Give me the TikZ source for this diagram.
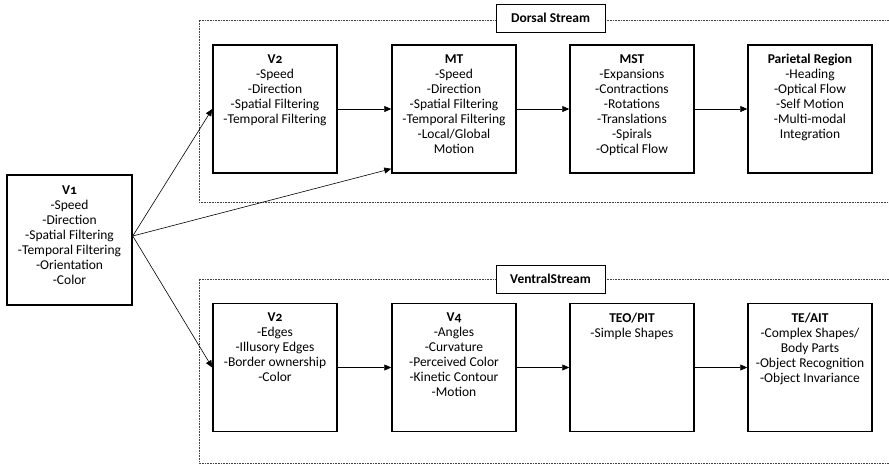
\documentclass[tikz,border=0pt]{standalone}
\usepackage{fontspec}
\setmainfont{Carlito}
\usepackage{tikz}
\usetikzlibrary{arrows.meta}

\begin{document}
\begin{tikzpicture}[x=1pt,y=-1pt,
        area/.style={draw=black, line width=1.5pt, minimum width=124pt, minimum height=128pt, inner sep=0pt},
        info/.style={anchor=north, align=center, inner sep=0pt, font=\fontsize{13.5}{15}\selectfont},
        tag/.style={draw=black, line width=0.8pt, fill=white, minimum width=109pt, minimum height=28pt, inner sep=0pt, font=\fontsize{13.5}{15}\selectfont\bfseries},
        frame/.style={draw=black!75, line width=0.8pt, dash pattern=on 0.8pt off 0.8pt},
        flow/.style={draw=black, line width=0.6pt, -{Triangle[length=7pt,width=6pt]}}]
            \useasboundingbox (0,0) rectangle (889,464);
            % stream frames
            \draw[frame] (889,20) -- (199,20) -- (199,202) -- (889,202);
            \draw[frame] (889,279) -- (199,279) -- (199,463) -- (889,463);
            \node[tag] (dorsal) at (550.5,18) {Dorsal Stream};
            \node[tag] (ventral) at (550.5,279) {VentralStream};
            % V1
            \node[area, minimum width=125pt, minimum height=130pt] (v1) at (69.5,240) {};
            \node[info] (v1txt) at ([yshift=-11pt]v1.north) {{\bfseries\addfontfeature{Numbers=OldStyle}V1}\\-Speed\\-Direction\\-Spatial Filtering\\-Temporal Filtering\\-Orientation\\-Color};
            \coordinate (v1out) at ([yshift=4pt]v1.east);
            % dorsal row
            \node[area] (v2d) at (275,109) {};
            \node[area] (mt) at (454,109) {};
            \node[area] (mst) at (632,109) {};
            \node[area] (par) at (810,109) {};
            \node[info] (v2dtxt) at ([yshift=-10pt]v2d.north) {{\bfseries\addfontfeature{Numbers=OldStyle}V2}\\-Speed\\-Direction\\-Spatial Filtering\\-Temporal Filtering};
            \node[info] (mttxt) at ([yshift=-10pt]mt.north) {\textbf{MT}\\-Speed\\-Direction\\-Spatial Filtering\\-Temporal Filtering\\-Local/Global\\Motion};
            \node[info] (msttxt) at ([yshift=-10pt]mst.north) {\textbf{MST}\\-Expansions\\-Contractions\\-Rotations\\-Translations\\-Spirals\\-Optical Flow};
            \node[info] (partxt) at ([yshift=-10pt]par.north) {\textbf{Parietal Region}\\-Heading\\-Optical Flow\\-Self Motion\\-Multi-modal\\Integration};
            % ventral row
            \node[area] (v2v) at (275,367.5) {};
            \node[area] (v4) at (454,367.5) {};
            \node[area] (teo) at (632,367.5) {};
            \node[area] (te) at (810,367.5) {};
            \node[info] (v2vtxt) at ([yshift=-10pt]v2v.north) {{\bfseries\addfontfeature{Numbers=OldStyle}V2}\\-Edges\\-Illusory Edges\\-Border ownership\\-Color};
            \node[info] (v4txt) at ([yshift=-10pt]v4.north) {{\bfseries\addfontfeature{Numbers=OldStyle}V4}\\-Angles\\-Curvature\\-Perceived Color\\-Kinetic Contour\\-Motion};
            \node[info] (teotxt) at ([yshift=-10pt]teo.north) {\textbf{TEO/PIT}\\-Simple Shapes};
            \node[info] (tetxt) at ([yshift=-10pt]te.north) {\textbf{TE/AIT}\\-Complex Shapes/\\Body Parts\\-Object Recognition\\-Object Invariance};
            % connections
            \draw[flow] (v1out) -- (v2d.west);
            \draw[flow] (v1out) -- ([yshift=5pt]mt.south west);
            \draw[flow] (v1out) -- (v2v.west);
            \draw[flow] (v2d) -- (mt);
            \draw[flow] (mt) -- (mst);
            \draw[flow] (mst) -- (par);
            \draw[flow] (v2v) -- (v4);
            \draw[flow] (v4) -- (teo);
            \draw[flow] (teo) -- (te);
        \end{tikzpicture}
\end{document}
